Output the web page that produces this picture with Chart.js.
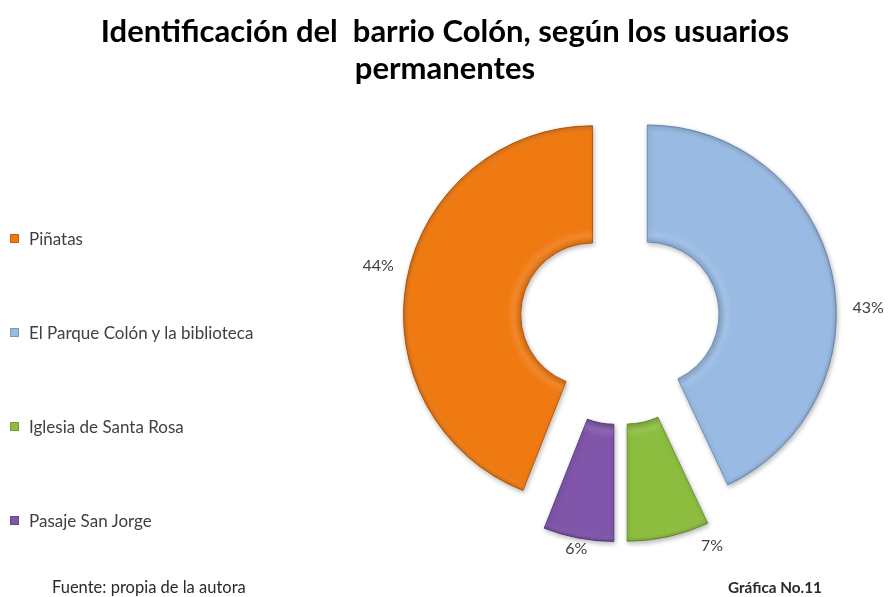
<!DOCTYPE html>
<html lang="es">
<head>
<meta charset="utf-8">
<title>Identificación del barrio Colón</title>
<script src="https://cdn.jsdelivr.net/npm/chart.js@4.4.1/dist/chart.umd.min.js"></script>
<style>
  html, body { margin: 0; padding: 0; background: #ffffff; }
  #wrap { position: relative; width: 890px; height: 597px; overflow: hidden; font-family: Lato, "Open Sans", sans-serif; }
  #chart { position: absolute; left: 0; top: 0; }
  #title { position: absolute; left: 0; top: 12px; width: 890px; text-align: center; font-weight: bold; font-size: 31px; line-height: 37px; color: #000; white-space: pre; }
  #legend { position: absolute; left: 10px; top: 0; }
  .item { position: absolute; left: 0; white-space: nowrap; font-size: 17px; color: #404040; display: flex; align-items: center; }
  .swatch { width: 9px; height: 9px; margin-right: 10px; box-shadow: inset 0 0 0 1px rgba(0,0,0,0.18); }
  .foot { position: absolute; top: 577px; font-size: 16.5px; color: #2a2a2a; white-space: nowrap; }
</style>
</head>
<body>
<div id="wrap">
  <canvas id="chart" width="890" height="597"></canvas>
  <div id="title">Identificación del  barrio Colón, según los usuarios
permanentes</div>
  <div id="legend"></div>
  <div class="foot" style="left:52px;">Fuente: propia de la autora</div>
  <div class="foot" style="left:728px;font-weight:bold;font-size:15.3px;top:578px;">Gráfica No.11</div>
</div>
<script>
// Categories and their shares (%)
const categories = ['Piñatas', 'El Parque Colón y la biblioteca', 'Iglesia de Santa Rosa', 'Pasaje San Jorge'];
const shares = [44, 43, 7, 6];
const sliceColors = ['#F07A12', '#98BAE3', '#8DBD3F', '#7F56A9'];
const sliceEdges = ['#B9590A', '#6F8FB8', '#6A9330', '#5C3C82'];

// Legend rows, one per category
const legendTops = [238, 332, 426, 520];
const legendEl = document.getElementById('legend');
categories.forEach((name, i) => {
  const row = document.createElement('div');
  row.className = 'item';
  row.style.top = (legendTops[i] - 11) + 'px';
  row.style.height = '22px';
  const sw = document.createElement('span');
  sw.className = 'swatch';
  sw.style.background = sliceColors[i];
  const tx = document.createElement('span');
  tx.textContent = name;
  row.appendChild(sw);
  row.appendChild(tx);
  legendEl.appendChild(row);
});

// Pulls each slice away from the centre along its middle angle
const explodeSlices = {
  id: 'explodeSlices',
  beforeDatasetDraw(chart, args, opts) {
    const ctx = chart.ctx;
    const meta = args.meta;
    meta.data.forEach((arc, i) => {
      const mid = (arc.startAngle + arc.endAngle) / 2;
      const d = opts.distance[i] || 0;
      ctx.save();
      ctx.translate(Math.cos(mid) * d, Math.sin(mid) * d);
      ctx.shadowColor = 'rgba(0,0,0,0.28)';
      ctx.shadowBlur = 5;
      ctx.shadowOffsetX = 1;
      ctx.shadowOffsetY = 2;
      arc.draw(ctx);
      ctx.restore();
      // soft bevel along the rims
      ctx.save();
      ctx.translate(Math.cos(mid) * d, Math.sin(mid) * d);
      const g = ctx.createRadialGradient(arc.x, arc.y, arc.innerRadius, arc.x, arc.y, arc.outerRadius);
      g.addColorStop(0, 'rgba(0,0,0,0.10)');
      g.addColorStop(0.06, 'rgba(255,255,255,0.10)');
      g.addColorStop(0.12, 'rgba(255,255,255,0)');
      g.addColorStop(0.94, 'rgba(255,255,255,0)');
      g.addColorStop(1, 'rgba(0,0,0,0.12)');
      ctx.beginPath();
      ctx.arc(arc.x, arc.y, arc.outerRadius, arc.startAngle, arc.endAngle);
      ctx.arc(arc.x, arc.y, arc.innerRadius, arc.endAngle, arc.startAngle, true);
      ctx.closePath();
      ctx.fillStyle = g;
      ctx.fill();
      ctx.restore();
    });
    return false;
  }
};

// Percentage labels outside each slice
const sliceLabels = {
  id: 'sliceLabels',
  afterDatasetsDraw(chart, args, opts) {
    const ctx = chart.ctx;
    const meta = chart.getDatasetMeta(0);
    const data = chart.data.datasets[0].data;
    const dist = chart.options.plugins.explodeSlices.distance;
    ctx.save();
    ctx.font = opts.font;
    ctx.fillStyle = opts.color;
    ctx.textAlign = 'center';
    ctx.textBaseline = 'middle';
    meta.data.forEach((arc, i) => {
      const mid = (arc.startAngle + arc.endAngle) / 2;
      const d = dist[i] || 0;
      const cx = arc.x + Math.cos(mid) * d;
      const cy = arc.y + Math.sin(mid) * d;
      const a = mid + (opts.nudge[i] || 0) * Math.PI / 180;
      const text = data[i] + '%';
      const w = ctx.measureText(text).width;
      const h = 14;
      const r = arc.outerRadius + opts.gap[i] + Math.abs(Math.cos(a)) * w / 2 + Math.abs(Math.sin(a)) * h / 2;
      ctx.fillText(text, cx + Math.cos(a) * r, cy + Math.sin(a) * r);
    });
    ctx.restore();
  }
};

new Chart(document.getElementById('chart'), {
  type: 'doughnut',
  data: {
    labels: categories,
    datasets: [{
      data: shares,
      backgroundColor: sliceColors,
      borderColor: sliceEdges,
      borderWidth: 1
    }]
  },
  options: {
    responsive: false,
    animation: false,
    rotation: -shares[0] * 3.6,
    radius: 189,
    cutout: '38%',
    layout: { padding: { left: 350, right: 0, top: 43, bottom: 0 } },
    plugins: {
      legend: { display: false },
      tooltip: { enabled: false },
      explodeSlices: { distance: [28, 28, 33, 33] },
      sliceLabels: { font: '16px Lato, "Open Sans", sans-serif', color: '#404040', gap: [14, 16, 12, 2], nudge: [2, 11, -11, 0] }
    }
  },
  plugins: [explodeSlices, sliceLabels]
});
</script>
</body>
</html>
